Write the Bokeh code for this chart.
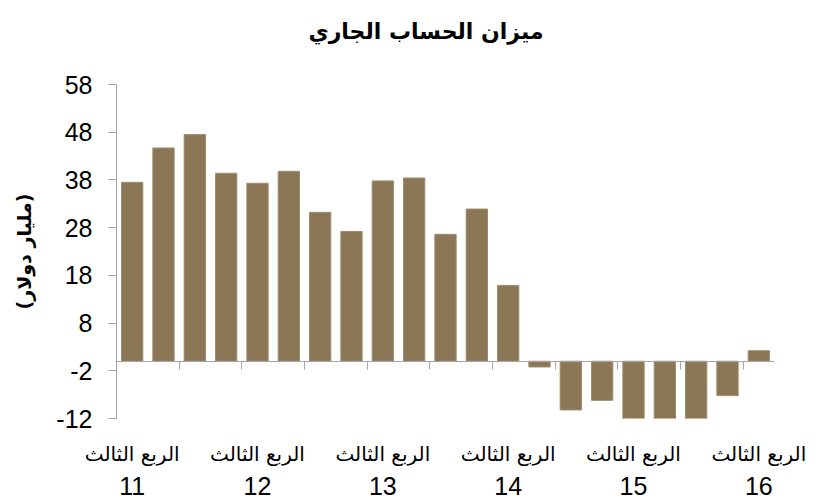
from bokeh.plotting import figure
from bokeh.models import LinearAxis, FixedTicker, Range1d, CustomLabelingPolicy
from bokeh.embed import file_html
from bokeh.resources import INLINE

# ---- data ----
quarters = list(range(1, 22))  # Q3 2011 ... Q3 2016
values = [37.5, 44.7, 47.5, 39.4, 37.3, 39.8, 31.2, 27.2, 37.8, 38.4, 26.6,
          31.9, 15.9, -1.2, -10.2, -8.2, -12.4, -12.4, -12.4, -7.2, 2.2]
quarter_label = "الربع الثالث"
years = ["11", "12", "13", "14", "15", "16"]
label_positions = [1, 5, 9, 13, 17, 21]
y_ticks = [-12, -2, 8, 18, 28, 38, 48, 58]
title_text = "ميزان الحساب الجاري"
y_label = "(مليار دولار)"

boundary_ticks = [q - 0.5 for q in quarters[::2]]

AR_FONT = "DejaVu Sans"
NUM_FONT = "Liberation Sans"
AXIS_COLOR = "#A6A6A6"

p = figure(width=824, height=502, output_backend="svg", toolbar_location=None,
           x_range=Range1d(0.5, 21.5), y_range=Range1d(-12, 58),
           x_axis_location=None, y_axis_location="left",
           min_border_left=116, min_border_right=50, min_border_top=84,
           min_border_bottom=84)
p.outline_line_color = None
p.xgrid.visible = False
p.ygrid.visible = False

p.vbar(x=quarters, top=values, bottom=0, width=0.68,
       fill_color="#8B7755", line_color="#9E8D6E", line_width=1)

# title (a trailing empty line gives the title box extra height so the text sits higher)
p.title.text = title_text + "\n"
p.title.text_font = AR_FONT
p.title.text_font_size = "22px"
p.title.text_font_style = "bold"
p.title.align = "left"
p.title.vertical_align = "top"
p.title.offset = 192
p.title.standoff = 28
p.title.text_color = "black"

# y axis
ya = p.yaxis[0]
ya.ticker = FixedTicker(ticks=y_ticks)
ya.major_label_overrides = {t: str(t) for t in y_ticks}
ya.minor_tick_line_color = None
ya.major_tick_in = 0
ya.major_tick_out = 8
ya.axis_line_color = AXIS_COLOR
ya.major_tick_line_color = AXIS_COLOR
ya.major_label_text_font = NUM_FONT
ya.major_label_text_font_size = "25px"
ya.major_label_text_color = "black"
ya.major_label_standoff = 16
ya.axis_label = y_label
ya.axis_label_text_font = AR_FONT
ya.axis_label_text_font_size = "19px"
ya.axis_label_text_font_style = "bold"
ya.axis_label_text_color = "black"
ya.axis_label_standoff = 18

# x axis line at zero with boundary tick marks (no labels)
xa = LinearAxis(fixed_location=0, ticker=FixedTicker(ticks=boundary_ticks),
                major_label_policy=CustomLabelingPolicy(
                    code="for (const i of Array.from(indices)) { indices.unset(i) } return indices"))
xa.axis_line_color = AXIS_COLOR
xa.major_tick_line_color = AXIS_COLOR
xa.minor_tick_line_color = None
xa.major_tick_in = 0
xa.major_tick_out = 8
p.add_layout(xa, "below")

# quarter labels
qa = LinearAxis(ticker=FixedTicker(ticks=label_positions),
                major_label_overrides={pos: quarter_label for pos in label_positions})
qa.axis_line_color = None
qa.major_tick_line_color = None
qa.minor_tick_line_color = None
qa.major_label_text_font = AR_FONT
qa.major_label_text_font_size = "20px"
qa.major_label_text_color = "black"
qa.major_label_standoff = 17
p.add_layout(qa, "below")

# year labels
ya2 = LinearAxis(ticker=FixedTicker(ticks=label_positions),
                 major_label_overrides={pos: yr for pos, yr in zip(label_positions, years)})
ya2.axis_line_color = None
ya2.major_tick_line_color = None
ya2.minor_tick_line_color = None
ya2.major_label_text_font = NUM_FONT
ya2.major_label_text_font_size = "25px"
ya2.major_label_text_color = "black"
ya2.major_label_standoff = 2
p.add_layout(ya2, "below")

open("out.html", "w").write(file_html(p, INLINE))
